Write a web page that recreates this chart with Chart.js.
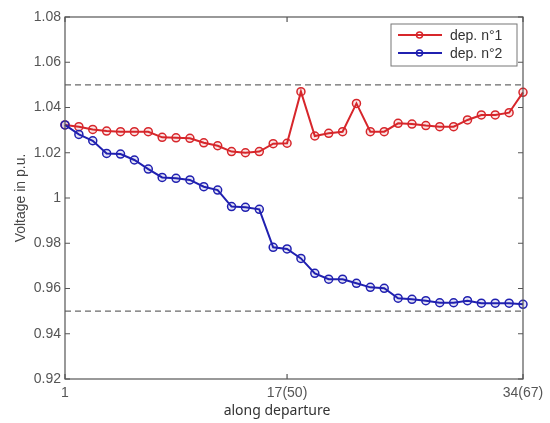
<!DOCTYPE html>
<html>
<head>
<meta charset="utf-8">
<title>Voltage along departure</title>
<script src="https://cdn.jsdelivr.net/npm/chart.js@4.4.1/dist/chart.umd.min.js"></script>
<style>
    body { margin: 0; background: #fff; }
    #wrap { width: 550px; height: 423px; }
</style>
</head>
<body>
<div id="wrap"><canvas id="myChart" width="550" height="423"></canvas></div>
<script>
// nodes along the departure (x)
const nodes = [1, 2, 3, 4, 5, 6, 7, 8, 9, 10, 11, 12, 13, 14, 15, 16, 17,
               18, 19, 20, 21, 22, 23, 24, 25, 26, 27, 28, 29, 30, 31, 32, 33, 34];

// voltage in p.u. for each departure
const dep1 = [1.0323, 1.0315, 1.0303, 1.0296, 1.0293, 1.0293, 1.0293, 1.0268, 1.0266, 1.0264,
              1.0244, 1.0231, 1.0205, 1.0200, 1.0205, 1.0240, 1.0242, 1.0470, 1.0274, 1.0286,
              1.0293, 1.0418, 1.0293, 1.0293, 1.0330, 1.0327, 1.0320, 1.0315, 1.0315, 1.0345,
              1.0367, 1.0367, 1.0377, 1.0467];
const dep2 = [1.0323, 1.0281, 1.0253, 1.0197, 1.0194, 1.0168, 1.0128, 1.0091, 1.0087, 1.0080,
              1.0050, 1.0035, 0.9962, 0.9959, 0.9950, 0.9782, 0.9775, 0.9733, 0.9667, 0.9641,
              0.9641, 0.9623, 0.9605, 0.9601, 0.9557, 0.9552, 0.9546, 0.9537, 0.9537, 0.9546,
              0.9535, 0.9535, 0.9535, 0.9530];

// voltage limits (dashed lines)
const limits = [1.05, 0.95];

// axis ticks
const xTickValues = [1, 17, 34];
const xTickLabels = ['1', '17(50)', '34(67)'];
const yTickValues = [0.92, 0.94, 0.96, 0.98, 1, 1.02, 1.04, 1.06, 1.08];

const seriesNames = ['dep. n°1', 'dep. n°2'];
const RED = '#d7262b';
const BLUE = '#2020b0';
const AXIS = '#555';

function toPoints(values) {
    return nodes.map((n, i) => ({ x: n, y: values[i] }));
}

// dashed limit lines
var limitSets = limits.map(v => ({
    label: 'limit',
    data: [{ x: nodes[0], y: v }, { x: nodes[nodes.length - 1], y: v }],
    borderColor: '#6a6a6a',
    borderWidth: 1.3,
    borderDash: [6, 4],
    pointRadius: 0,
    order: 3
}));

// box + inward ticks like in matlab, and the legend
const matlabFrame = {
    id: 'matlabFrame',
    afterDatasetsDraw(chart) {
        const ctx = chart.ctx;
        const a = chart.chartArea;
        const xs = chart.scales.x, ys = chart.scales.y;
        ctx.save();
        ctx.strokeStyle = AXIS;
        ctx.lineWidth = 1.2;
        ctx.strokeRect(a.left, a.top, a.right - a.left, a.bottom - a.top);
        ctx.beginPath();
        yTickValues.forEach(v => {
            const y = ys.getPixelForValue(v);
            ctx.moveTo(a.left, y); ctx.lineTo(a.left + 5, y);
            ctx.moveTo(a.right, y); ctx.lineTo(a.right - 5, y);
        });
        xTickValues.forEach(v => {
            const x = xs.getPixelForValue(v);
            ctx.moveTo(x, a.bottom); ctx.lineTo(x, a.bottom - 5);
            ctx.moveTo(x, a.top); ctx.lineTo(x, a.top + 5);
        });
        ctx.stroke();

        // legend box
        const lx = 391, ly = 24, lw = 126, lh = 42;
        ctx.fillStyle = '#fff';
        ctx.fillRect(lx, ly, lw, lh);
        ctx.strokeStyle = '#777';
        ctx.lineWidth = 1;
        ctx.strokeRect(lx, ly, lw, lh);
        const colors = [RED, BLUE];
        ctx.font = '14px "Liberation Sans", Arial, sans-serif';
        ctx.textBaseline = 'middle';
        seriesNames.forEach((name, i) => {
            const y = ly + 11 + i * 18;
            ctx.strokeStyle = colors[i];
            ctx.lineWidth = 2;
            ctx.beginPath();
            ctx.moveTo(lx + 7, y); ctx.lineTo(lx + 51, y);
            ctx.stroke();
            ctx.lineWidth = 1.5;
            ctx.beginPath();
            ctx.arc(lx + 28.5, y, 3, 0, Math.PI * 2);
            ctx.stroke();
            ctx.fillStyle = '#333';
            ctx.fillText(name, lx + 59, y + 1);
        });

        // x title
        ctx.fillStyle = '#333';
        ctx.font = '14px "Noto Sans", sans-serif';
        ctx.textAlign = 'center';
        ctx.fillText('along departure', 277, 411);
        ctx.restore();
    }
};

const ctx = document.getElementById('myChart');
const myChart = new Chart(ctx, {
    type: 'line',
    data: {
        datasets: [
            {
                label: seriesNames[0],
                data: toPoints(dep1),
                borderColor: RED,
                borderWidth: 2,
                pointRadius: 4,
                pointBorderWidth: 1.5,
                pointBackgroundColor: 'rgba(215,38,43,0.12)',
                pointBorderColor: RED,
                clip: false,
                order: 2
            },
            {
                label: seriesNames[1],
                data: toPoints(dep2),
                borderColor: BLUE,
                borderWidth: 2,
                pointRadius: 4,
                pointBorderWidth: 1.5,
                pointBackgroundColor: 'rgba(32,32,176,0.12)',
                pointBorderColor: BLUE,
                clip: false,
                order: 1
            }
        ].concat(limitSets)
    },
    options: {
        responsive: false,
        animation: false,
        layout: { padding: { left: 0, right: 27, top: 17, bottom: 0 } },
        plugins: {
            legend: { display: false },
            tooltip: { enabled: false }
        },
        scales: {
            x: {
                type: 'linear',
                min: 1,
                max: 34,
                afterBuildTicks: s => { s.ticks = xTickValues.map(v => ({ value: v })); },
                afterFit: s => { s.height = 44; },
                grid: { display: false, drawTicks: false },
                border: { display: false },
                ticks: {
                    padding: 6,
                    color: '#555',
                    font: { family: '"Liberation Sans", Arial, sans-serif', size: 14 },
                    maxRotation: 0,
                    callback: v => xTickLabels[xTickValues.indexOf(v)]
                }
            },
            y: {
                min: 0.92,
                max: 1.08,
                afterBuildTicks: s => { s.ticks = yTickValues.map(v => ({ value: v })); },
                afterFit: s => { s.width = 65; },
                grid: { display: false, drawTicks: false },
                border: { display: false },
                ticks: {
                    padding: 4,
                    color: '#555',
                    font: { family: '"Liberation Sans", Arial, sans-serif', size: 14 },
                    callback: v => String(Math.round(v * 100) / 100)
                },
                title: {
                    display: true,
                    text: 'Voltage in p.u.',
                    color: '#444',
                    font: { family: '"Liberation Sans", Arial, sans-serif', size: 14 },
                    padding: { top: 13, bottom: 0 }
                }
            }
        }
    },
    plugins: [matlabFrame]
});
</script>
</body>
</html>
